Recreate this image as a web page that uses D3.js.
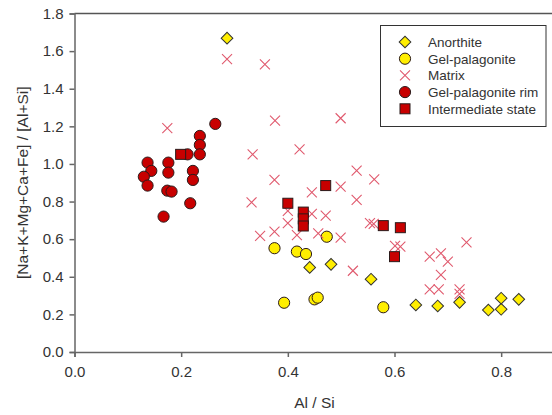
<!DOCTYPE html>
<html>
<head>
<meta charset="utf-8">
<script src="https://cdn.jsdelivr.net/npm/d3@7"></script>
<style>
  body { margin: 0; background: #ffffff; }
  text { font-family: Arial, "Liberation Sans", sans-serif; }
</style>
</head>
<body>
<script>
// Al/Si vs [Na+K+Mg+Ca+Fe]/[Al+Si]

var anorthite = [[0.286,1.669],[0.441,0.450],[0.481,0.466],[0.556,0.387],[0.640,0.250],
  [0.681,0.245],[0.722,0.264],[0.776,0.223],[0.800,0.227],[0.800,0.286],[0.833,0.280]];

var gelPalagonite = [[0.375,0.552],[0.417,0.534],[0.434,0.521],[0.473,0.613],[0.393,0.262],
  [0.450,0.280],[0.456,0.289],[0.579,0.238]];

var matrix = [[0.286,1.557],[0.357,1.530],[0.174,1.190],[0.376,1.230],[0.334,1.051],
  [0.375,0.915],[0.332,0.796],[0.348,0.617],[0.375,0.640],[0.499,1.243],[0.422,1.078],
  [0.529,0.964],[0.562,0.918],[0.445,0.849],[0.499,0.879],[0.529,0.809],[0.400,0.750],
  [0.445,0.734],[0.471,0.725],[0.400,0.685],[0.417,0.622],[0.457,0.631],[0.499,0.608],
  [0.554,0.685],[0.561,0.681],[0.601,0.564],[0.611,0.560],[0.522,0.432],[0.666,0.507],
  [0.687,0.525],[0.700,0.480],[0.687,0.410],[0.735,0.583],[0.666,0.333],[0.683,0.333],
  [0.722,0.333],[0.722,0.309]];

var gelRim = [[0.264,1.213],[0.235,1.149],[0.235,1.101],[0.235,1.051],[0.212,1.051],
  [0.137,1.007],[0.176,1.007],[0.144,0.963],[0.176,0.954],[0.222,0.963],[0.130,0.932],
  [0.222,0.915],[0.137,0.885],[0.174,0.858],[0.182,0.853],[0.217,0.791],[0.167,0.720]];

var intermediate = [[0.199,1.051],[0.471,0.885],[0.400,0.791],[0.429,0.744],[0.429,0.708],
  [0.429,0.670],[0.579,0.672],[0.611,0.661],[0.600,0.507]];

var xTicks = [0.0, 0.2, 0.4, 0.6, 0.8];
var yTicks = [0.0, 0.2, 0.4, 0.6, 0.8, 1.0, 1.2, 1.4, 1.6, 1.8];
var legendNames = ["Anorthite", "Gel-palagonite", "Matrix", "Gel-palagonite rim", "Intermediate state"];

var width = 552, height = 415;
var svg = d3.select("body").append("svg")
    .attr("width", width)
    .attr("height", height);

var x = d3.scaleLinear().domain([0, 0.9]).range([74.5, 554.5]);
var y = d3.scaleLinear().domain([0, 1.8]).range([352, 13.5]);

var yellow = "#ffee00", red = "#c80000", crossCol = "#e05a6e";

// frame (right side sits just off the picture)
svg.append("line")
    .attr("x1", x(0)).attr("x2", x(0.9))
    .attr("y1", y(1.8)).attr("y2", y(1.8))
    .attr("stroke", "#555").attr("stroke-width", 1.5);

// axes
var xAxis = svg.append("g")
    .attr("transform", "translate(0," + y(0) + ")")
    .call(d3.axisBottom(x).tickValues(xTicks).tickFormat(d3.format(".1f")).tickSizeOuter(0).tickSize(5).tickPadding(9));
var yAxis = svg.append("g")
    .attr("transform", "translate(" + x(0) + ",0)")
    .call(d3.axisLeft(y).tickValues(yTicks).tickFormat(d3.format(".1f")).tickSizeOuter(0).tickSize(5).tickPadding(6));

[xAxis, yAxis].forEach(function(a) {
  a.select(".domain").attr("stroke", "#666").attr("stroke-width", 1.5);
  a.selectAll(".tick line").attr("stroke", "#666").attr("stroke-width", 1.5);
  a.selectAll(".tick text").attr("fill", "#333").style("font-size", "15px")
    .style("font-family", "Arial, 'Liberation Sans', sans-serif");
});

svg.append("text")
    .text("Al / Si")
    .attr("x", (x(0) + x(0.9)) / 2)
    .attr("y", 408)
    .attr("text-anchor", "middle")
    .attr("fill", "#333")
    .style("font-size", "15.5px");

svg.append("text")
    .text("[Na+K+Mg+Ca+Fe] / [Al+Si]")
    .attr("text-anchor", "middle")
    .attr("fill", "#333")
    .style("font-size", "15.5px")
    .attr("transform", "translate(28," + (y(0) + y(1.8)) / 2 + ") rotate(-90)");

// symbols
var diamond = d3.symbol().type(d3.symbolSquare).size(68);
function drawDiamond(g, px, py) {
  g.append("path")
    .attr("d", diamond())
    .attr("transform", "translate(" + px + "," + py + ") rotate(45)")
    .attr("fill", yellow).attr("stroke", "#333").attr("stroke-width", 1);
}
function drawCircle(g, px, py, fill) {
  g.append("circle")
    .attr("cx", px).attr("cy", py).attr("r", 5.6)
    .attr("fill", fill).attr("stroke", "#2a1a1a").attr("stroke-width", 1);
}
function drawCross(g, px, py) {
  var s = 5;
  g.append("path")
    .attr("d", "M" + (px - s) + "," + (py - s) + "L" + (px + s) + "," + (py + s) +
               "M" + (px - s) + "," + (py + s) + "L" + (px + s) + "," + (py - s))
    .attr("stroke", crossCol).attr("stroke-width", 1.1).attr("fill", "none");
}
function drawSquare(g, px, py) {
  g.append("rect")
    .attr("x", px - 5).attr("y", py - 5).attr("width", 10).attr("height", 10)
    .attr("fill", red).attr("stroke", "#2a1a1a").attr("stroke-width", 1);
}

var pts = svg.append("g");
anorthite.forEach(function(d) { drawDiamond(pts, x(d[0]), y(d[1])); });
gelPalagonite.forEach(function(d) { drawCircle(pts, x(d[0]), y(d[1]), yellow); });
matrix.forEach(function(d) { drawCross(pts, x(d[0]), y(d[1])); });
gelRim.forEach(function(d) { drawCircle(pts, x(d[0]), y(d[1]), red); });
intermediate.forEach(function(d) { drawSquare(pts, x(d[0]), y(d[1])); });

// legend
var leg = svg.append("g");
leg.append("rect")
    .attr("x", 380.5).attr("y", 25.5).attr("width", 165.5).attr("height", 101)
    .attr("fill", "#fff").attr("stroke", "#333").attr("stroke-width", 1);

legendNames.forEach(function(name, i) {
  var ly = 42 + i * 16.7;
  if (i == 0) drawDiamond(leg, 405, ly);
  if (i == 1) drawCircle(leg, 405, ly, yellow);
  if (i == 2) drawCross(leg, 405, ly);
  if (i == 3) drawCircle(leg, 405, ly, red);
  if (i == 4) drawSquare(leg, 405, ly);
  leg.append("text")
    .text(name)
    .attr("x", 428)
    .attr("y", ly + 4.8)
    .attr("fill", "#333")
    .style("font-size", "13.5px");
});
</script>
</body>
</html>
